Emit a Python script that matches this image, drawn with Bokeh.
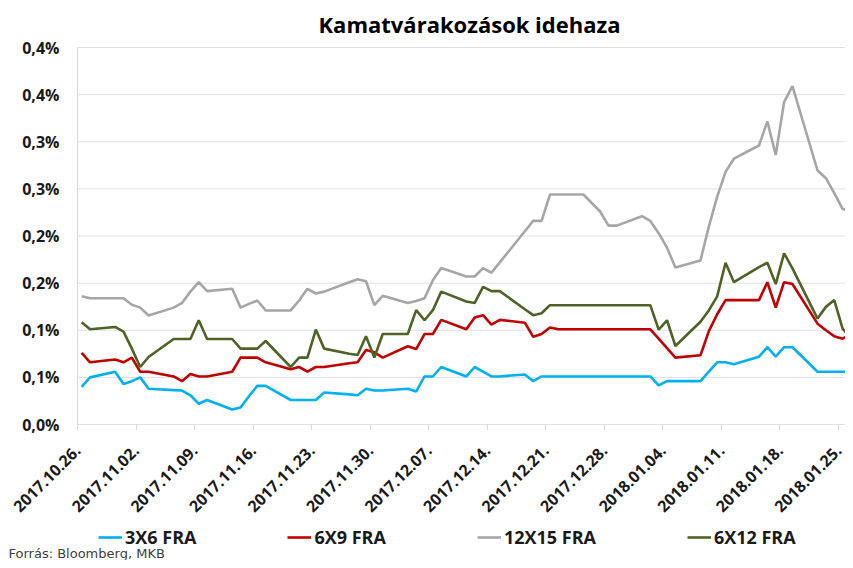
import math
import pandas as pd
from bokeh.plotting import figure
from bokeh.models import (ColumnDataSource, FixedTicker, DatetimeTickFormatter, Range1d,
                          Legend, LegendItem, Label, CustomJSTickFormatter)
from bokeh.embed import file_html
from bokeh.resources import INLINE

# ---------------- data (percent) ----------------
dates = [
    "2017-10-26", "2017-10-27", "2017-10-30", "2017-10-31", "2017-11-01", "2017-11-02", "2017-11-03",
    "2017-11-06", "2017-11-07", "2017-11-08", "2017-11-09", "2017-11-10",
    "2017-11-13", "2017-11-14", "2017-11-15", "2017-11-16", "2017-11-17",
    "2017-11-20", "2017-11-21", "2017-11-22", "2017-11-23", "2017-11-24",
    "2017-11-27", "2017-11-28", "2017-11-29", "2017-11-30", "2017-12-01",
    "2017-12-04", "2017-12-05", "2017-12-06", "2017-12-07", "2017-12-08",
    "2017-12-11", "2017-12-12", "2017-12-13", "2017-12-14", "2017-12-15",
    "2017-12-18", "2017-12-19", "2017-12-20", "2017-12-21", "2017-12-22",
    "2017-12-25", "2017-12-26", "2017-12-27", "2017-12-28", "2017-12-29",
    "2018-01-01", "2018-01-02", "2018-01-03", "2018-01-04", "2018-01-05",
    "2018-01-08", "2018-01-09", "2018-01-10", "2018-01-11", "2018-01-12",
    "2018-01-15", "2018-01-16", "2018-01-17", "2018-01-18", "2018-01-19",
    "2018-01-22", "2018-01-23", "2018-01-24", "2018-01-25", "2018-01-26",
]

fra_3x6 = [
    0.040, 0.050, 0.056, 0.043, 0.046, 0.050, 0.038,
    0.0365, 0.036, 0.031, 0.022, 0.026,
    0.016, 0.018, 0.030, 0.041, 0.041,
    0.026, 0.026, 0.026, 0.026, 0.034,
    0.032, 0.031, 0.038, 0.036, 0.036,
    0.038, 0.035, 0.051, 0.051, 0.061,
    0.051, 0.061, 0.056, 0.051, 0.051,
    0.053, 0.046, 0.051, 0.051, 0.051,
    0.051, 0.051, 0.051, 0.051, 0.051,
    0.051, 0.051, 0.0415, 0.046, 0.046,
    0.046, 0.056, 0.066, 0.066, 0.064,
    0.072, 0.082, 0.072, 0.082, 0.082,
    0.056, 0.056, 0.056, 0.056, 0.056,
]

fra_6x9 = [
    0.076, 0.066, 0.069, 0.066, 0.071, 0.056, 0.056,
    0.051, 0.046, 0.0535, 0.051, 0.051,
    0.056, 0.071, 0.071, 0.071, 0.066,
    0.0585, 0.061, 0.056, 0.061, 0.061,
    0.065, 0.066, 0.079, 0.0766, 0.071,
    0.083, 0.080, 0.096, 0.096, 0.111,
    0.101, 0.1135, 0.116, 0.106, 0.111,
    0.108, 0.093, 0.096, 0.103, 0.101,
    0.101, 0.101, 0.101, 0.101, 0.101,
    0.101, 0.101, 0.091, 0.081, 0.071,
    0.0734, 0.099, 0.117, 0.132, 0.132,
    0.132, 0.151, 0.124, 0.151, 0.149,
    0.107, 0.100, 0.0936, 0.091, 0.0965,
]

fra_12x15 = [
    0.136, 0.134, 0.134, 0.134, 0.127, 0.124, 0.1156,
    0.124, 0.129, 0.141, 0.151, 0.1415,
    0.144, 0.124, 0.128, 0.1316, 0.121,
    0.121, 0.1316, 0.144, 0.139, 0.141,
    0.151, 0.154, 0.152, 0.1266, 0.1365,
    0.129, 0.131, 0.134, 0.153, 0.166,
    0.157, 0.157, 0.166, 0.161, 0.172,
    0.205, 0.216, 0.216, 0.244, 0.244,
    0.244, 0.235, 0.226, 0.211, 0.211,
    0.221, 0.216, 0.203, 0.1876, 0.1667,
    0.174, 0.210, 0.2418, 0.268, 0.282,
    0.296, 0.3216, 0.286, 0.342, 0.359,
    0.2695, 0.2613, 0.2454, 0.2287, 0.2258,
]

fra_6x12 = [
    0.1085, 0.101, 0.1035, 0.0986, 0.0805, 0.061, 0.0716,
    0.0907, 0.0907, 0.0907, 0.1106, 0.0907,
    0.0907, 0.0805, 0.0805, 0.0805, 0.0886,
    0.061, 0.071, 0.071, 0.1007, 0.0805,
    0.075, 0.0737, 0.0936, 0.071, 0.096,
    0.096, 0.1213, 0.1106, 0.1213, 0.141,
    0.1305, 0.129, 0.146, 0.1415, 0.1415,
    0.1223, 0.116, 0.118, 0.1266, 0.1266,
    0.1266, 0.1266, 0.1266, 0.1266, 0.1266,
    0.1266, 0.1266, 0.1007, 0.1106, 0.0833,
    0.109, 0.121, 0.136, 0.1716, 0.151,
    0.167, 0.1716, 0.149, 0.1816, 0.1656,
    0.1124, 0.1248, 0.132, 0.1018, 0.091,
]

series_names = ["3X6 FRA", "6X9 FRA", "12X15 FRA", "6X12 FRA"]
series_colors = ["#00b0f0", "#c00000", "#a6a6a6", "#4f6228"]

tick_dates = ["2017-10-26", "2017-11-02", "2017-11-09", "2017-11-16", "2017-11-23",
              "2017-11-30", "2017-12-07", "2017-12-14", "2017-12-21", "2017-12-28",
              "2018-01-04", "2018-01-11", "2018-01-18", "2018-01-25"]
y_ticks = [0.0, 0.05, 0.10, 0.15, 0.20, 0.25, 0.30, 0.35, 0.40]

title_text = "Kamatvárakozások idehaza"
source_text = "Forrás: Bloomberg, MKB"

FONT = "Open Sans"
GRID = "#e0e0e0"

# ---------------- layout constants (pixels) ----------------
W, H = 845, 560
PLOT_T = 47         # y of 0.4 %
PLOT_L = 77         # x of the first date tick / y axis
PLOT_B = 424        # y of 0 %
PX_PER_DAY = 8.362

# ---------------- build ----------------
x_dates = pd.to_datetime(dates) + pd.Timedelta(hours=12)   # points centred in the day slot
src = ColumnDataSource(dict(x=x_dates, s0=fra_3x6, s1=fra_6x9, s2=fra_12x15, s3=fra_6x12))

x0 = pd.Timestamp(tick_dates[0])
x0_ms = x0.value / 1e6
x_lo = x0 - pd.Timedelta(days=PLOT_L / PX_PER_DAY)
x_hi = x_lo + pd.Timedelta(days=W / PX_PER_DAY)
x_last = x0 + pd.Timedelta(days=(W - PLOT_L) / PX_PER_DAY)
y_span = y_ticks[-1] - y_ticks[0]
per_px = y_span / (PLOT_B - PLOT_T)
y_hi = y_ticks[-1] + PLOT_T * per_px
y_lo = y_ticks[0] - (H - PLOT_B) * per_px

p = figure(width=W, height=H, output_backend="svg", toolbar_location=None,
           x_axis_type="datetime",
           x_range=Range1d(x_lo, x_hi), y_range=Range1d(y_lo, y_hi),
           min_border_left=0, min_border_right=0, min_border_top=0, min_border_bottom=0)

p.outline_line_color = None
p.background_fill_color = "white"
p.border_fill_color = "white"
p.xgrid.grid_line_color = None
p.ygrid.grid_line_color = None

# gridlines and axis line (light grey)
grid_src = ColumnDataSource(dict(y=y_ticks, x0=[x0] * len(y_ticks), x1=[x_last] * len(y_ticks)))
p.segment(x0="x0", y0="y", x1="x1", y1="y", source=grid_src, line_color=GRID, line_width=1)
p.segment(x0=[x0], y0=[y_ticks[0]], x1=[x0], y1=[y_ticks[-1]], line_color="#d9d9d9", line_width=1)

renderers = []
for i, (name, col) in enumerate(zip(series_names, series_colors)):
    r = p.line("x", f"s{i}", source=src, line_color=col, line_width=2.6)
    renderers.append((name, r))

# x axis (drawn at y = 0)
xa = p.xaxis[0]
xa.fixed_location = 0.0
xa.ticker = FixedTicker(ticks=[pd.Timestamp(d).value / 1e6 for d in tick_dates])
fmt = "%Y.%m.%d."
xa.formatter = DatetimeTickFormatter(days=fmt, months=fmt, years=fmt, hours=fmt,
                                     hourmin=fmt, minutes=fmt, minsec=fmt, seconds=fmt,
                                     milliseconds=fmt, microseconds=fmt)
xa.major_label_orientation = math.pi / 4
xa.major_label_text_font = FONT
xa.major_label_text_font_size = "16px"
xa.major_label_text_font_style = "bold"
xa.major_label_text_color = "#1a1a1a"
xa.axis_line_color = None
xa.major_tick_line_color = "#d9d9d9"
xa.major_tick_in = 0
xa.major_tick_out = 6
xa.minor_tick_line_color = None
xa.major_label_standoff = 17

# y axis (drawn at the first date)
ya = p.yaxis[0]
ya.fixed_location = float(x0_ms)
ya.ticker = FixedTicker(ticks=y_ticks)
ya.formatter = CustomJSTickFormatter(code="""
    const v = Math.round(tick * 10 + 1e-9) / 10;
    return v.toFixed(1).replace('.', ',') + '%';
""")
ya.major_label_text_font = FONT
ya.major_label_text_font_size = "16px"
ya.major_label_text_font_style = "bold"
ya.major_label_text_color = "#1a1a1a"
ya.axis_line_color = None
ya.major_tick_line_color = None
ya.minor_tick_line_color = None
ya.major_label_standoff = 12

# title
p.add_layout(Label(x=318, y=H - 23, x_units="screen", y_units="screen", text=title_text,
                   text_baseline="alphabetic", text_align="left", text_font=FONT,
                   text_font_size="22px", text_font_style="bold", text_color="#000000"))

# legend
legend = Legend(items=[LegendItem(label=n, renderers=[r]) for n, r in renderers],
                orientation="horizontal", location=(98, 11),
                glyph_width=24, glyph_height=16, label_standoff=3, spacing=91,
                padding=0, margin=0, border_line_color=None, background_fill_alpha=0,
                label_text_font=FONT, label_text_font_size="18px",
                label_text_font_style="bold", label_text_color="#1a1a1a")
p.add_layout(legend, "center")

# source note
p.add_layout(Label(x=8, y=7.5, x_units="screen", y_units="screen", text=source_text,
                   text_baseline="alphabetic", text_align="left", text_font="DejaVu Sans",
                   text_font_size="13px", text_color="#404040"))

open("out.html", "w").write(file_html(p, INLINE))
